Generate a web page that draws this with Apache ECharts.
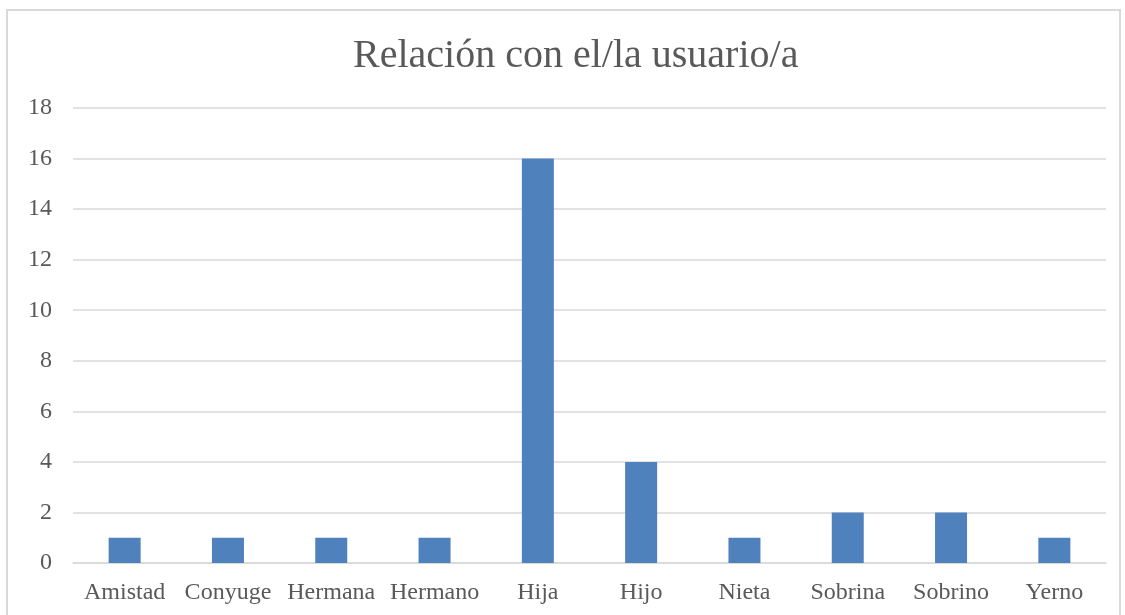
<!DOCTYPE html>
<html>
<head>
<meta charset="utf-8">
<script src="https://cdn.jsdelivr.net/npm/echarts@6/dist/echarts.min.js"></script>
<style>
  html, body { margin: 0; padding: 0; background: #fff; }
  #chart { width: 1125px; height: 615px; }
</style>
</head>
<body>
<div id="chart"></div>
<script>
// data
const categories = ['Amistad', 'Conyuge', 'Hermana', 'Hermano', 'Hija', 'Hijo', 'Nieta', 'Sobrina', 'Sobrino', 'Yerno'];
const counts = [1, 1, 1, 1, 16, 4, 1, 2, 2, 1];
const chartTitle = 'Relación con el/la usuario/a';

const font = '"Liberation Serif", "DejaVu Serif", serif';
const textColor = '#595959';

const chart = echarts.init(document.getElementById('chart'));
chart.setOption({
  animation: false,
  title: {
    text: chartTitle,
    left: 348,
    top: 31,
    textStyle: { fontFamily: font, fontSize: 40, fontWeight: 'normal', color: textColor }
  },
  graphic: [{
    type: 'rect',
    shape: { x: 7, y: 10, width: 1113, height: 640 },
    style: { fill: 'none', stroke: '#d9d9d9', lineWidth: 2 },
    silent: true
  }],
  grid: { left: 73, right: 19, top: 108, bottom: 52, containLabel: false },
  xAxis: {
    type: 'category',
    data: categories,
    axisLine: { show: true, lineStyle: { color: '#d9d9d9', width: 1.5 } },
    axisTick: { show: false },
    axisLabel: { fontFamily: font, fontSize: 24, color: textColor, margin: 18, interval: 0 }
  },
  yAxis: {
    type: 'value',
    min: 0,
    max: 18,
    interval: 2,
    axisLine: { show: false },
    axisTick: { show: false },
    splitLine: { lineStyle: { color: '#d9d9d9', width: 1.5 } },
    axisLabel: { fontFamily: font, fontSize: 24, color: textColor, margin: 21 }
  },
  series: [{
    type: 'bar',
    data: counts,
    barWidth: 32,
    itemStyle: { color: '#4F81BD' }
  }]
});
</script>
</body>
</html>
